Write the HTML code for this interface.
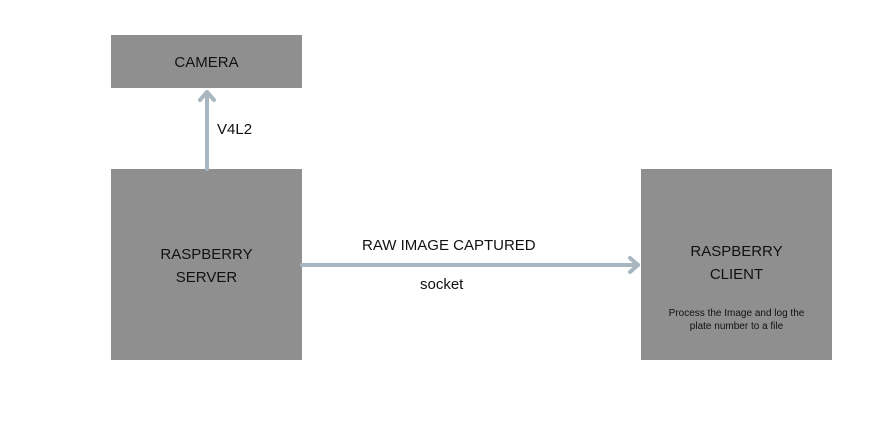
<!DOCTYPE html>
<html><head><style>
body{margin:0;width:874px;height:423px;background:#fff;position:relative;font-family:"Liberation Sans",sans-serif;overflow:hidden}
.b{position:absolute;background:#8f8f8f;color:#111;text-align:center}
.t{position:absolute;font-size:15px;color:#111}
</style></head><body>
<div class="b" style="left:111px;top:35px;width:191px;height:53px;line-height:56px;font-size:15px">CAMERA</div>
<div class="b" style="left:111px;top:169px;width:191px;height:191px;font-size:15px"><div style="padding-top:74px;line-height:23px">RASPBERRY<br>SERVER</div></div>
<div class="b" style="left:641px;top:169px;width:191px;height:191px;font-size:15px"><div style="padding-top:71px;line-height:23px">RASPBERRY<br>CLIENT</div><div style="font-size:10px;line-height:13px;margin-top:21px">Process the Image and log the<br>plate number to a file</div></div>
<svg style="position:absolute;left:0;top:0" width="874" height="423">
<g stroke="#a8b6c0" stroke-width="4" fill="none" stroke-linecap="round" stroke-linejoin="round">
<line x1="207" y1="169" x2="207" y2="92"/>
<polyline points="200,100 207,92 214,100"/>
<line x1="302" y1="265" x2="638" y2="265"/>
<polyline points="630,258 638,265 630,272"/>
</g></svg>
<div class="t" style="left:217px;top:121px">V4L2</div>
<div class="t" style="left:362px;top:237px">RAW IMAGE CAPTURED</div>
<div class="t" style="left:420px;top:276px">socket</div>
</body></html>
